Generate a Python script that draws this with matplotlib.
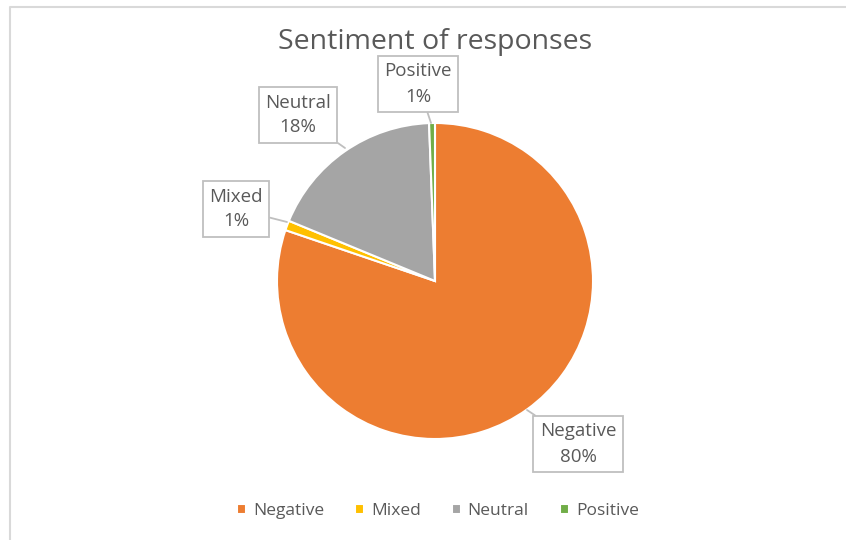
import matplotlib.pyplot as plt

# Sentiment data
labels = ['Negative', 'Mixed', 'Neutral', 'Positive']
shares = [80.3, 1.0, 18.2, 0.6]
colors = ['#ED7D31', '#FFC000', '#A5A5A5', '#70AD47']

plt.rcParams['font.family'] = ['Open Sans', 'DejaVu Sans']

W, H = 846, 540
fig = plt.figure(figsize=(W / 100, H / 100), dpi=100)
ax = fig.add_axes([0, 0, 1, 1])

# pie drawn in pixel coordinates (y up)
cx, cy, r = 435, H - 281, 158
wedges, _ = ax.pie(shares, colors=colors, startangle=90, counterclock=False,
                   center=(cx, cy), radius=r, frame=True,
                   wedgeprops=dict(edgecolor='white', linewidth=1.5))
ax.set_xlim(0, W)
ax.set_ylim(0, H)
ax.set_aspect('equal')
ax.axis('off')

# callout boxes: text centre and point on the pie (pixel coords, y from top)
box_pos = {'Positive': (418, 84), 'Neutral': (298, 115),
           'Mixed': (236, 209), 'Negative': (578, 444)}
tip_pos = {'Positive': (431, 123), 'Neutral': (345, 148),
           'Mixed': (287, 222), 'Negative': (527, 410)}

for lab, val in zip(labels, shares):
    bx, by = box_pos[lab]
    tx, ty = tip_pos[lab]
    ax.annotate(f'{lab}\n{round(val):.0f}%', xy=(tx, H - ty), xytext=(bx, H - by),
                ha='center', va='center', fontsize=13.5, color='#595959',
                linespacing=1.5,
                bbox=dict(boxstyle='square,pad=0.35', fc='white', ec='#BFBFBF', lw=1.3),
                arrowprops=dict(arrowstyle='-', color='#BFBFBF', lw=1.3,
                                shrinkA=0, shrinkB=0))

ax.text(cx, H - 42, 'Sentiment of responses', ha='center', va='center',
        fontsize=20.5, color='#595959')

# legend
leg = ax.legend(wedges, labels, loc='center', bbox_to_anchor=(438 / W, 1 - 511 / H),
                bbox_transform=fig.transFigure, ncol=4, frameon=False,
                fontsize=12.5, labelcolor='#595959', handlelength=0.5, handleheight=0.5,
                handletextpad=0.4, columnspacing=1.8)

# light chart border
ax.plot([10, 10, W], [0, H - 7, H - 7], color='#D9D9D9', lw=1.5, clip_on=False)

fig.savefig('out.png', dpi=100)
